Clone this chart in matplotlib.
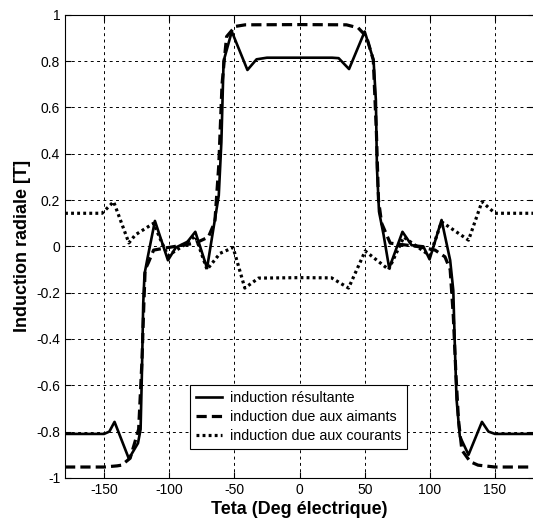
import matplotlib
matplotlib.use("Agg")
import matplotlib.pyplot as plt

# induction resultante (solid)
x_res = [-180, -150, -146, -142, -131, -124, -122, -121, -120, -119, -117, -111, -101, -95, -86, -80, -71,
         -64, -62, -60, -58.3, -52, -40, -33, -25, 0, 25, 30, 38, 50, 56.8, 58.6, 59.4, 61, 64.5, 68.8,
         79, 86, 95, 99.8, 109, 115.6, 118, 119.3, 120.5, 123, 129.7, 140, 145, 150, 180]
y_res = [-0.81, -0.81, -0.80, -0.758, -0.917, -0.85, -0.79, -0.55, -0.25, -0.12, -0.06, 0.11, -0.06, -0.005, 0.02, 0.063, -0.094,
         0.15, 0.22, 0.45, 0.80, 0.928, 0.762, 0.808, 0.815, 0.815, 0.815, 0.813, 0.766, 0.928, 0.805, 0.63, 0.34, 0.15, 0.05, -0.094,
         0.063, 0.005, 0.0, -0.056, 0.114, -0.06, -0.19, -0.45, -0.66, -0.82, -0.90, -0.758, -0.80, -0.81, -0.81]

# induction due aux aimants (dashed)
x_aim = [-180, -150, -140, -136.6, -130, -123.5, -121, -119.5, -118.5, -116, -112, -103, -90, -80, -70, -65,
         -62, -59.5, -57.5, -56, -49.4, -41.7, 0, 36, 45, 51.4, 56.6, 59, 60.6, 63, 69.6, 90, 104, 111.6,
         115.6, 118, 120, 122, 124.6, 131, 137, 150, 180]
y_aim = [-0.953, -0.953, -0.948, -0.945, -0.915, -0.79, -0.5, -0.25, -0.10, -0.07, -0.016, -0.007, 0.005, 0.014, 0.04, 0.106,
         0.35, 0.70, 0.82, 0.906, 0.95, 0.957, 0.958, 0.957, 0.944, 0.906, 0.805, 0.49, 0.2, 0.10, 0.014, 0.0, -0.016, -0.045,
         -0.10, -0.30, -0.55, -0.75, -0.88, -0.93, -0.945, -0.953, -0.953]

# induction due aux courants (dotted)
x_cou = [-180, -151.6, -142.7, -131, -126, -112, -106, -101, -90, -80, -71, -61, -51, -42, -31.5, 0,
         24.6, 37.6, 50.4, 68.4, 80, 90, 100, 109, 129.7, 140, 150, 180]
y_cou = [0.143, 0.143, 0.193, 0.015, 0.05, 0.10, 0.02, -0.04, 0.0, 0.045, -0.10, -0.03, -0.005, -0.18, -0.137, -0.135,
         -0.136, -0.18, -0.02, -0.10, 0.04, 0.0, -0.04, 0.106, 0.027, 0.193, 0.143, 0.143]

labels = ["induction résultante", "induction due aux aimants", "induction due aux courants"]
xticks = [-150, -100, -50, 0, 50, 100, 150]
yticks = [-1, -0.8, -0.6, -0.4, -0.2, 0, 0.2, 0.4, 0.6, 0.8, 1]

font = "Liberation Sans"

fig = plt.figure(figsize=(5.33, 5.31), dpi=100)
ax = fig.add_axes([0.122, 0.1, 0.88, 0.872])

ax.plot(x_res, y_res, color="black", lw=1.9, label=labels[0])
ax.plot(x_aim, y_aim, color="black", lw=2.3, dashes=(3.2, 1.6), label=labels[1])
ax.plot(x_cou, y_cou, color="black", lw=2.3, dashes=(0.9, 1.0), dash_capstyle="butt", label=labels[2])

ax.set_xlim(-180, 180)
ax.set_ylim(-1, 1)
ax.set_xticks(xticks)
ax.set_yticks(yticks)
ax.set_xticklabels([str(t) for t in xticks], family=font, fontsize=10)
ax.set_yticklabels(["%g" % t for t in yticks], family=font, fontsize=10)
ax.tick_params(direction="in", length=4, width=0.8, top=True, right=True)
ax.grid(True, color="black", linestyle=(0, (3, 3.5)), linewidth=0.7)

ax.set_xlabel("Teta (Deg électrique)", fontsize=13, fontweight="bold", family=font, labelpad=3)
ax.set_ylabel("Induction radiale [T]", fontsize=13, fontweight="bold", family=font, labelpad=4)

leg = ax.legend(loc="lower left", bbox_to_anchor=(0.267, 0.063), prop={"family": font, "size": 10.3},
                fancybox=False, framealpha=1, edgecolor="black", borderpad=0.4, handlelength=1.8,
                handletextpad=0.6, labelspacing=0.35, borderaxespad=0)
leg.get_frame().set_linewidth(0.8)

fig.savefig("out.png", dpi=100)
